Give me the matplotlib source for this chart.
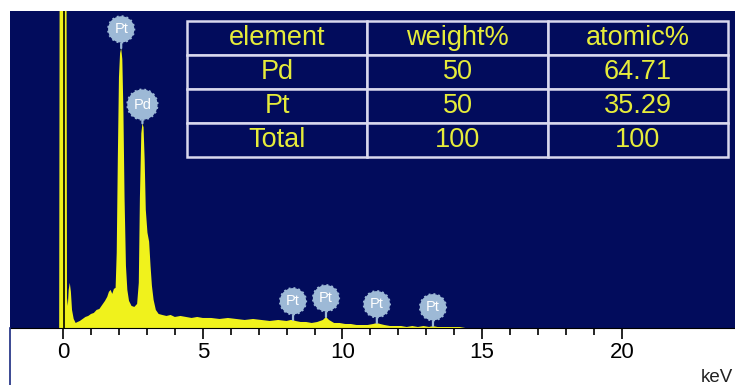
import numpy as np
import matplotlib
matplotlib.use("Agg")
import matplotlib.pyplot as plt
from matplotlib.lines import Line2D

plt.rcParams['font.family'] = ['Liberation Sans', 'DejaVu Sans']

# EDS spectrum (energy in keV, counts in arbitrary units)
energy_kev = [
    -0.14, -0.12, 0.12, 0.14, 0.17, 0.20, 0.24, 0.28, 0.32, 0.38,
    0.45, 0.52, 0.60, 0.70, 0.80, 0.90, 1.00, 1.10, 1.20, 1.30,
    1.40, 1.50, 1.58, 1.64, 1.70, 1.76, 1.82, 1.88, 1.92, 1.96,
    2.00, 2.04, 2.08, 2.12, 2.16, 2.20, 2.25, 2.30, 2.36, 2.45,
    2.55, 2.65, 2.71, 2.75, 2.80, 2.84, 2.88, 2.92, 2.96, 3.02,
    3.08, 3.13, 3.18, 3.24, 3.32, 3.42, 3.55, 3.70, 3.85, 4.00,
    4.20, 4.40, 4.60, 4.80, 5.00, 5.30, 5.60, 5.90, 6.20, 6.50,
    6.80, 7.10, 7.40, 7.70, 8.00, 8.15, 8.23, 8.32, 8.50, 8.70,
    8.90, 9.10, 9.30, 9.41, 9.52, 9.70, 9.90, 10.1, 10.3, 10.5,
    10.7, 10.9, 11.1, 11.23, 11.35, 11.5, 11.7, 11.9, 12.1, 12.3,
    12.5, 12.7, 12.9, 13.1, 13.24, 13.4, 13.6, 13.8, 14.0, 14.2,
    14.4, 24.0,
]
counts = [
    0, 420, 420, 30, 22, 38, 45, 36, 18, 9,
    5, 6, 7, 9, 11, 12, 14, 15, 18, 19,
    23, 27, 31, 36, 38, 34, 39, 40, 75, 170,
    250, 274, 279, 268, 215, 130, 62, 38, 27, 22,
    21, 24, 45, 130, 194, 204, 200, 168, 118, 95,
    86, 62, 42, 28, 18, 14, 13, 12, 13, 11,
    12, 11, 10, 11, 10, 10, 9, 10, 9, 8,
    9, 8, 7, 8, 7, 8, 8, 7, 6, 6,
    5, 6, 8, 11, 8, 5, 5, 4, 4, 3,
    3, 3, 4, 5, 4, 3, 2, 2, 2, 1,
    2, 1, 2, 1, 2, 1, 1, 1, 1, 1,
    0, 0,
]

# Peak identification markers
marker_energy = [2.08, 2.84, 8.23, 9.41, 11.23, 13.24]
marker_label = ["Pt", "Pd", "Pt", "Pt", "Pt", "Pt"]

# Quantification table
table_header = ["element", "weight%", "atomic%"]
table_element = ["Pd", "Pt", "Total"]
table_weight = ["50", "50", "100"]
table_atomic = ["64.71", "35.29", "100"]

x_ticks_major = [0, 5, 10, 15, 20]
x_ticks_minor = list(range(0, 21))

NAVY = "#020c5c"
YELLOW = "#f0f21c"
TEXT_YELLOW = "#e6ec3a"
GRID_WHITE = "#d9d9ee"
BALLOON = "#9db9d6"

fig = plt.figure(figsize=(7.35, 3.85), dpi=100, facecolor="white")
ax = fig.add_axes([10 / 735, (385 - 328) / 385, 725 / 735, 317 / 385])
ax.set_facecolor(NAVY)

ax.fill_between(energy_kev, counts, 0, color=YELLOW, linewidth=0, zorder=2)
ax.axvline(0.05, color="black", lw=1.2, zorder=3)

ax.set_xlim(-1.9, 24.05)
ax.set_ylim(0, 316)

for s in ("left", "right", "top"):
    ax.spines[s].set_visible(False)
ax.spines["bottom"].set_color("black")
ax.spines["bottom"].set_linewidth(0.8)

ax.set_yticks([])
ax.set_xticks(x_ticks_major)
ax.set_xticks(x_ticks_minor, minor=True)
ax.tick_params(axis="x", which="major", length=8, width=1.2, color="black",
               labelsize=16, pad=2, labelcolor="black")
ax.tick_params(axis="x", which="minor", length=5, width=1.2, color="black")

# Balloon markers above each identified line
for e, lab in zip(marker_energy, marker_label):
    h = np.interp(e, energy_kev, counts)
    ax.annotate(
        lab, xy=(e, h), xytext=(0, 13.5), textcoords="offset points",
        ha="center", va="center", fontsize=10.5, color="white",
        bbox=dict(boxstyle="circle,pad=0.42", fc=BALLOON, ec=BALLOON,
                  lw=1.4, ls=(0, (1, 1.5))),
        arrowprops=dict(arrowstyle="-", color=BALLOON, lw=1.6,
                        shrinkA=0, shrinkB=0),
        zorder=5,
    )

# Quantification table
cell_text = [list(r) for r in zip(table_element, table_weight, table_atomic)]
tbl = ax.table(cellText=cell_text, colLabels=table_header, cellLoc="center",
               bbox=[(187 - 10) / 725, (328 - 157) / 317,
                     (728 - 187) / 725, (157 - 21) / 317],
               zorder=6)
tbl.auto_set_font_size(False)
for cell in tbl.get_celld().values():
    cell.set_facecolor(NAVY)
    cell.set_edgecolor(GRID_WHITE)
    cell.set_linewidth(1.8)
    cell.get_text().set_color(TEXT_YELLOW)
    cell.get_text().set_fontsize(19.5)

fig.text(733 / 735, (385 - 382) / 385, "keV", ha="right", va="baseline",
         fontsize=13.5, color="#222222")
fig.add_artist(Line2D([9.5 / 735, 9.5 / 735], [0, 57 / 385],
                      color="#1a2a80", lw=1.2))

fig.savefig("out.png", dpi=100, facecolor="white")
